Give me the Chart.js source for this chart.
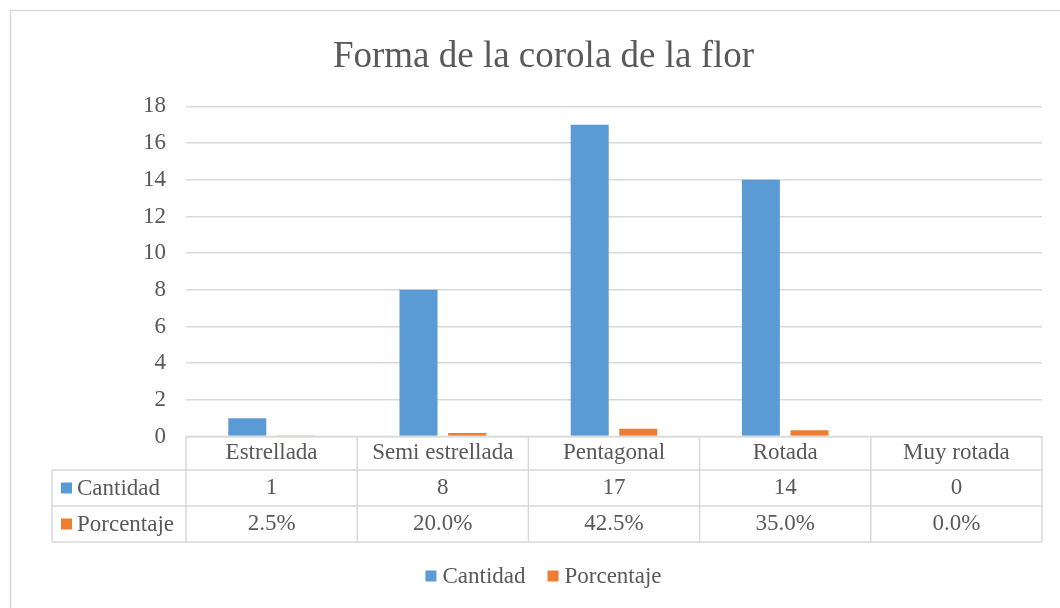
<!DOCTYPE html>
<html>
<head>
<meta charset="utf-8">
<title>Forma de la corola de la flor</title>
<script src="https://cdn.jsdelivr.net/npm/chart.js@4.4.1/dist/chart.umd.min.js"></script>
<style>
  html, body { margin: 0; padding: 0; background: #fff; }
  canvas { display: block; }
</style>
</head>
<body>
<canvas id="mycanvas" width="1060" height="608"></canvas>
<script>
// datos
var categorias = ["Estrellada", "Semi estrellada", "Pentagonal", "Rotada", "Muy rotada"];
var cantidad = [1, 8, 17, 14, 0];
var porcentaje = [0.025, 0.2, 0.425, 0.35, 0];
var yTicks = [0, 2, 4, 6, 8, 10, 12, 14, 16, 18];

var azul = "#5b9bd5";
var naranja = "#ed7d31";
var gris = "#595959";
var linea = "#d9d9d9";
var fuente = "'Liberation Serif', 'Times New Roman', serif";

// borde exterior, tabla de datos bajo el eje y leyenda
var tablaPlugin = {
    id: "tabla",
    beforeDraw: function(chart) {
        var ctx = chart.ctx;
        ctx.save();
        ctx.strokeStyle = linea;
        ctx.lineWidth = 1.5;
        ctx.strokeRect(10.5, 10.5, 1200, 800);
        ctx.restore();
    },
    afterDraw: function(chart) {
        var ctx = chart.ctx;
        var area = chart.chartArea;
        var x = chart.scales.x;
        var n = categorias.length;
        var colW = area.width / n;
        var top = area.bottom;
        var rows = [top, 470, 506, 542];
        var left = 52;
        var series = chart.data.datasets;

        ctx.save();
        ctx.strokeStyle = linea;
        ctx.lineWidth = 1.5;
        ctx.beginPath();
        // horizontales
        ctx.moveTo(area.left, rows[0]); ctx.lineTo(area.right, rows[0]);
        for (var r = 1; r < rows.length; r++) {
            ctx.moveTo(left, rows[r]); ctx.lineTo(area.right, rows[r]);
        }
        // verticales
        ctx.moveTo(left, rows[1]); ctx.lineTo(left, rows[3]);
        for (var i = 0; i <= n; i++) {
            var vx = area.left + i * colW;
            ctx.moveTo(vx, rows[0]); ctx.lineTo(vx, rows[3]);
        }
        ctx.stroke();

        ctx.fillStyle = gris;
        ctx.font = "23px " + fuente;
        ctx.textBaseline = "middle";
        ctx.textAlign = "center";
        for (var j = 0; j < n; j++) {
            var cx = x.getPixelForValue(j);
            ctx.fillText(categorias[j], cx, (rows[0] + rows[1]) / 2);
            ctx.fillText(String(cantidad[j]), cx, (rows[1] + rows[2]) / 2);
            ctx.fillText((porcentaje[j] * 100).toFixed(1) + "%", cx, (rows[2] + rows[3]) / 2);
        }

        // etiquetas de fila con su marca de color
        ctx.textAlign = "left";
        for (var s = 0; s < series.length; s++) {
            var cy = (rows[s + 1] + rows[s + 2]) / 2;
            ctx.fillStyle = series[s].backgroundColor;
            ctx.fillRect(61, cy - 5.5, 11, 11);
            ctx.fillStyle = gris;
            ctx.fillText(series[s].label, 77, cy + 1);
        }

        // leyenda inferior
        var box = 11, gap = 6, sep = 22, ly = 576;
        var total = 0;
        for (var k = 0; k < series.length; k++) {
            total += box + gap + ctx.measureText(series[k].label).width;
            if (k > 0) total += sep;
        }
        var lx = 543.5 - total / 2;
        for (var m = 0; m < series.length; m++) {
            ctx.fillStyle = series[m].backgroundColor;
            ctx.fillRect(lx, ly - 5.5, box, box);
            ctx.fillStyle = gris;
            ctx.fillText(series[m].label, lx + box + gap, ly + 1);
            lx += box + gap + ctx.measureText(series[m].label).width + sep;
        }
        ctx.restore();
    }
};

var ctx = document.getElementById("mycanvas");

var chartdata = {
    labels: categorias,
    datasets: [
        {
            label: "Cantidad",
            backgroundColor: azul,
            data: cantidad
        },
        {
            label: "Porcentaje",
            backgroundColor: naranja,
            data: porcentaje
        }
    ]
};

var barGraph = new Chart(ctx, {
    type: "bar",
    data: chartdata,
    plugins: [tablaPlugin],
    options: {
        responsive: false,
        animation: false,
        categoryPercentage: 0.568,
        barPercentage: 0.782,
        layout: {
            padding: { left: 45, right: 18, top: 10, bottom: 10 }
        },
        plugins: {
            title: {
                display: true,
                text: "Forma de la corola de la flor",
                color: gris,
                font: { family: fuente, size: 37, weight: "normal" },
                padding: { top: 25, bottom: 27 }
            },
            legend: { display: false },
            tooltip: { enabled: false }
        },
        scales: {
            x: {
                grid: { display: false },
                border: { display: false },
                ticks: { display: false },
                afterFit: function(scale) { scale.height = 161.4; }
            },
            y: {
                min: 0,
                max: 18,
                afterBuildTicks: function(scale) {
                    scale.ticks = yTicks.map(function(v) { return { value: v }; });
                },
                afterFit: function(scale) { scale.width = 141; },
                grid: { color: linea, lineWidth: 1.5, drawTicks: false },
                border: { display: false },
                ticks: {
                    color: gris,
                    padding: 20,
                    font: { family: fuente, size: 23 }
                }
            }
        }
    }
});
</script>
</body>
</html>
